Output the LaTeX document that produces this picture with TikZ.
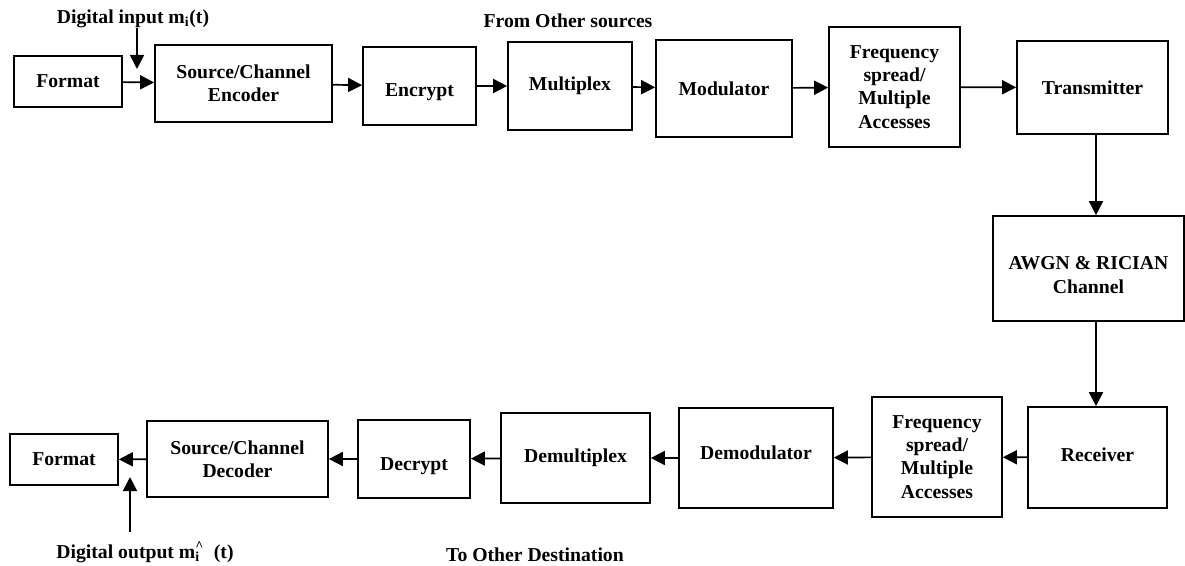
\documentclass[tikz,border=0pt]{standalone}
\usepackage{fontspec}
\setmainfont{Liberation Serif}
\usetikzlibrary{arrows.meta,positioning}
\tikzset{
  >={Triangle[length=10pt, width=10pt]},
  txt/.style ={font=\fontsize{14}{16.5}\selectfont\bfseries, inner sep=1pt, align=center},
  blk/.style 2 args={txt, draw, line width=1.2pt,
                minimum width=#1*0.025cm, minimum height=#2*0.025cm},
  arr/.style ={->, line width=1.2pt}
}
\begin{document}
\begin{tikzpicture}[x=0.025cm, y=-0.025cm]
\useasboundingbox (0,0) rectangle (1185,566);
% transmit side
\node[blk={108}{51}]  (fmtA)  at (68,81.5)    {Format};
\node[blk={177}{77}]  (enc)   at (243.5,83.5) {Source/Channel\\Encoder};
\node[blk={113}{78}]  (crypt) at (419.5,86)   {};
\node[txt]            (cryptT) at (419.5,92)  {Encrypt};
\node[blk={124}{88}]  (mux)   at (570,86)     {Multiplex};
\node[blk={136}{97}]  (mod)   at (724,88.5)   {Modulator};
\node[blk={131}{120}] (fsA)   at (894.5,87)   {Frequency\\spread/\\Multiple\\Accesses};
\node[blk={151}{93}]  (tx)    at (1092.5,87.5){Transmitter};
\node[blk={191}{105}] (chan)  at (1088.5,268.5){};
\node[txt]            (chanT) at (1088.5,275) {AWGN \& RICIAN\\Channel};
% receive side
\node[blk={139}{101}] (rx)    at (1097.5,457.5){};
\node[txt]            (rxT)   at (1097.5,455) {Receiver};
\node[blk={130}{120}] (fsB)   at (937,457)    {Frequency\\spread/\\Multiple\\Accesses};
\node[blk={154}{100}] (demod) at (756,458)    {};
\node[txt]            (demodT) at (756,453)   {Demodulator};
\node[blk={149}{90}]  (demux) at (575.5,458)  {Demultiplex};
\node[blk={112}{78}]  (dcry)  at (414,459)    {};
\node[txt]            (dcryT) at (414,466)    {Decrypt};
\node[blk={181}{76}]  (dec)   at (237.5,459)  {Source/Channel\\Decoder};
\node[blk={108}{51}]  (fmtB)  at (64,459.5)   {Format};
% labels
\node[txt] (lblIn)  at (133,19)  {Digital input m\textsubscript{i}(t)};
\node[txt] (lblSrc) at (568,21)  {From Other sources};
\node[txt] (lblOut) at (145,552) {Digital output m\rlap{\textsubscript{i}}\textsuperscript{\textasciicircum}\ \ (t)};
\node[txt] (lblDst) at (535,555) {To Other Destination};
\coordinate (inA)  at (137,28);
\coordinate (inB)  at (137,69);
\coordinate (outA) at (130,532);
\coordinate (outB) at (130,477);
% connectors
\draw[arr] (fmtA) -- (enc);
\draw[arr] (enc) -- (crypt);
\draw[arr] (crypt) -- (mux);
\draw[arr] (mux) -- (mod);
\draw[arr] (mod) -- (fsA);
\draw[arr] (fsA) -- (tx);
\draw[arr] (tx.south -| 1096,0) -- (chan.north -| 1096,0);
\draw[arr] (chan.south -| 1096,0) -- (rx.north -| 1096,0);
\draw[arr] (rx) -- (fsB);
\draw[arr] (fsB) -- (demod);
\draw[arr] (demod) -- (demux);
\draw[arr] (demux) -- (dcry);
\draw[arr] (dcry) -- (dec);
\draw[arr] (dec) -- (fmtB);
\draw[arr] (inA) -- (inB);
\draw[arr] (outA) -- (outB);
\end{tikzpicture}
\end{document}
